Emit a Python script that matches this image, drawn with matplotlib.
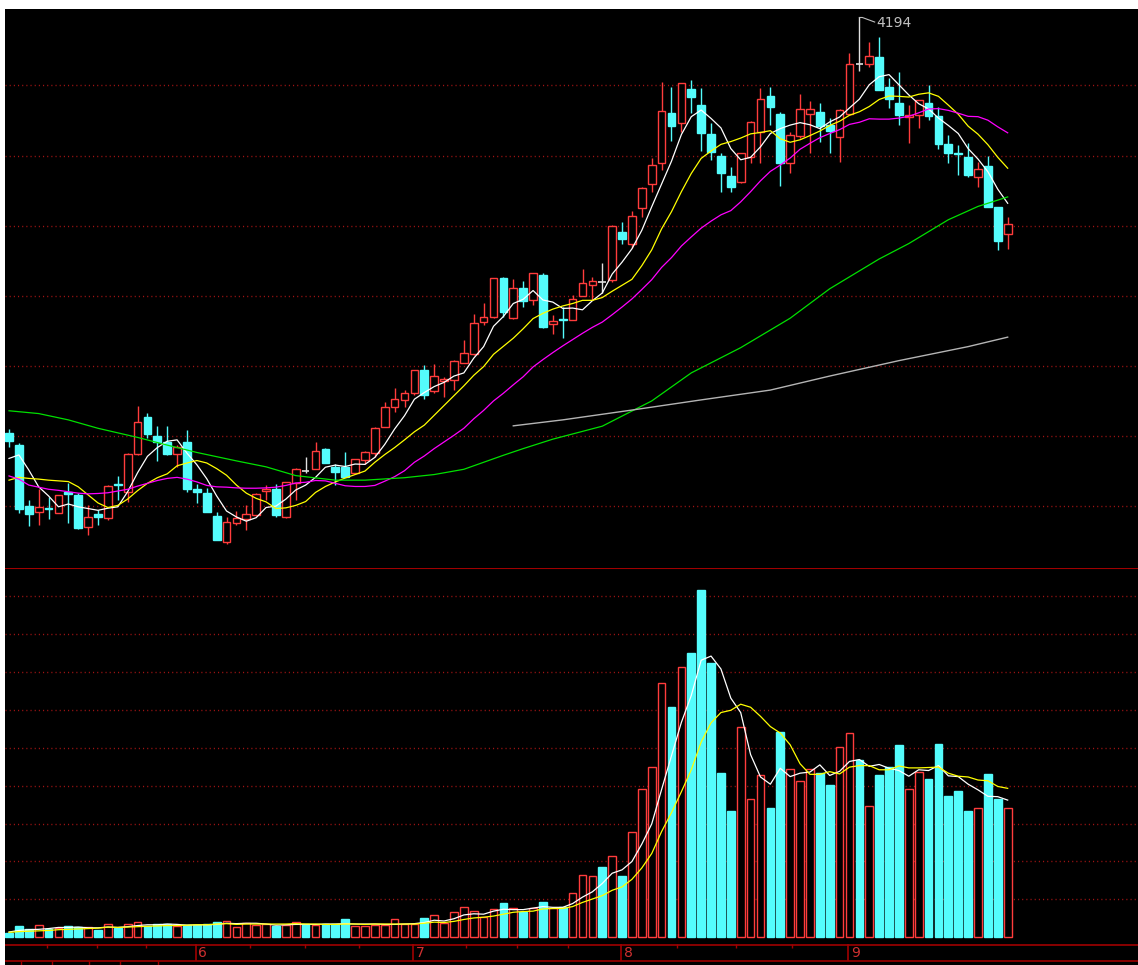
import numpy as np
import matplotlib
matplotlib.use('Agg')
import matplotlib.pyplot as plt
from matplotlib.patches import Rectangle

# 日K线数据
opens = [3009, 2974, 2801, 2783, 2795, 2781, 2841, 2832, 2741, 2777,
         2767, 2863, 2841, 2948, 3055, 3000, 2984, 2948, 2984, 2848,
         2838, 2772, 2698, 2753, 2762, 2775, 2843, 2848, 2768, 2867,
         2901, 2906, 2962, 2912, 2912, 2894, 2932, 2951, 3027, 3084,
         3103, 3124, 3188, 3127, 3158, 3160, 3209, 3233, 3326, 3339,
         3450, 3336, 3421, 3388, 3459, 3319, 3333, 3331, 3399, 3431,
         3439, 3445, 3583, 3548, 3651, 3719, 3780, 3922, 3892, 3989,
         3944, 3862, 3799, 3742, 3726, 3797, 3868, 3970, 3919, 3778,
         3856, 3919, 3925, 3887, 3852, 3919, 4061, 4061, 4082, 3997,
         3949, 3911, 3916, 3949, 3913, 3832, 3808, 3797, 3738, 3770,
         3652, 3575]
highs = [3019, 2979, 2817, 2848, 2827, 2833, 2865, 2836, 2803, 2789,
         2860, 2886, 2951, 3086, 3065, 3028, 3028, 2974, 3017, 2863,
         2851, 2784, 2768, 2787, 2803, 2836, 2860, 2863, 2870, 2908,
         2939, 2984, 2965, 2920, 2954, 2935, 2956, 3027, 3098, 3136,
         3131, 3189, 3203, 3205, 3169, 3217, 3274, 3348, 3380, 3451,
         3455, 3447, 3442, 3465, 3466, 3345, 3367, 3402, 3476, 3455,
         3493, 3602, 3610, 3642, 3711, 3792, 4011, 3997, 4007, 4016,
         3992, 3894, 3807, 3768, 3808, 3900, 3992, 3997, 3925, 3868,
         3976, 3957, 3951, 3908, 3932, 4094, 4194, 4123, 4138, 4021,
         4039, 3944, 3959, 4001, 3940, 3859, 3830, 3835, 3783, 3799,
         3653, 3626]
lows = [2968, 2779, 2743, 2746, 2762, 2779, 2752, 2734, 2718, 2746,
        2760, 2817, 2813, 2946, 2993, 2929, 2947, 2912, 2841, 2808,
        2784, 2703, 2692, 2746, 2732, 2772, 2817, 2770, 2765, 2817,
        2894, 2905, 2922, 2860, 2884, 2892, 2920, 2941, 3026, 3068,
        3084, 3117, 3105, 3122, 3110, 3131, 3207, 3232, 3317, 3336,
        3340, 3334, 3369, 3374, 3307, 3291, 3281, 3330, 3399, 3388,
        3407, 3440, 3548, 3536, 3624, 3697, 3759, 3843, 3868, 3921,
        3814, 3787, 3697, 3697, 3723, 3778, 3778, 3887, 3713, 3750,
        3849, 3807, 3840, 3808, 3783, 3916, 4042, 4054, 3987, 3935,
        3887, 3837, 3878, 3902, 3818, 3778, 3745, 3740, 3711, 3652,
        3531, 3533]
closes = [2987, 2791, 2777, 2798, 2791, 2831, 2835, 2737, 2770, 2768,
          2858, 2859, 2949, 3039, 3006, 2984, 2948, 2968, 2848, 2840,
          2784, 2703, 2755, 2765, 2777, 2834, 2848, 2775, 2868, 2906,
          2901, 2958, 2924, 2898, 2884, 2934, 2955, 3024, 3084, 3105,
          3124, 3188, 3117, 3171, 3164, 3214, 3236, 3323, 3340, 3450,
          3355, 3421, 3386, 3464, 3312, 3328, 3331, 3390, 3437, 3443,
          3439, 3599, 3561, 3628, 3707, 3773, 3928, 3884, 4006, 3966,
          3864, 3811, 3750, 3710, 3807, 3897, 3961, 3938, 3780, 3859,
          3932, 3932, 3884, 3871, 3930, 4061, 4061, 4085, 3987, 3961,
          3916, 3916, 3959, 3913, 3833, 3807, 3804, 3744, 3761, 3654,
          3557, 3604]
# 成交量（任意单位）
volumes = [0.12, 0.31, 0.21, 0.32, 0.21, 0.24, 0.30, 0.26, 0.26, 0.19,
           0.35, 0.24, 0.35, 0.41, 0.30, 0.35, 0.35, 0.30, 0.32, 0.32,
           0.35, 0.41, 0.44, 0.28, 0.38, 0.32, 0.34, 0.30, 0.32, 0.41,
           0.34, 0.32, 0.34, 0.34, 0.47, 0.30, 0.30, 0.32, 0.32, 0.47,
           0.34, 0.34, 0.50, 0.59, 0.37, 0.66, 0.81, 0.69, 0.54, 0.74,
           0.90, 0.77, 0.68, 0.77, 0.94, 0.77, 0.81, 1.16, 1.64, 1.62,
           1.86, 2.15, 1.62, 2.77, 3.92, 4.50, 6.70, 6.07, 7.14, 7.49,
           9.16, 7.25, 4.34, 3.32, 5.56, 3.64, 4.28, 3.40, 5.42, 4.45,
           4.12, 4.43, 4.34, 4.01, 5.02, 5.39, 4.67, 3.47, 4.27, 4.49,
           5.08, 3.92, 4.36, 4.17, 5.11, 3.72, 3.86, 3.33, 3.41, 4.30,
           3.66, 3.41]

# 均线
ma5 = [2936, 2946, 2903, 2855, 2829, 2798, 2806, 2798, 2793, 2788,
       2794, 2798, 2841, 2895, 2942, 2967, 2985, 2989, 2951, 2918,
       2878, 2829, 2786, 2769, 2757, 2767, 2796, 2800, 2820, 2846,
       2860, 2882, 2911, 2917, 2913, 2920, 2919, 2939, 2976, 3020,
       3058, 3105, 3124, 3141, 3153, 3171, 3180, 3222, 3255, 3313,
       3341, 3378, 3390, 3415, 3388, 3382, 3364, 3365, 3360, 3386,
       3408, 3462, 3496, 3534, 3587, 3654, 3719, 3784, 3860, 3911,
       3930, 3906, 3879, 3820, 3788, 3795, 3825, 3863, 3877, 3887,
       3894, 3888, 3877, 3896, 3910, 3936, 3961, 4002, 4025, 4031,
       4002, 3973, 3948, 3933, 3907, 3886, 3863, 3820, 3790, 3754,
       3704, 3664]
ma10 = [2874, 2882, 2879, 2877, 2874, 2872, 2870, 2855, 2832, 2809,
        2796, 2802, 2820, 2844, 2865, 2881, 2892, 2915, 2923, 2930,
        2923, 2907, 2888, 2860, 2837, 2822, 2812, 2793, 2795, 2802,
        2813, 2839, 2856, 2869, 2880, 2890, 2900, 2925, 2947, 2967,
        2989, 3012, 3031, 3059, 3087, 3115, 3143, 3173, 3198, 3233,
        3256, 3279, 3306, 3335, 3350, 3362, 3371, 3378, 3387, 3387,
        3395, 3413, 3430, 3447, 3486, 3531, 3591, 3640, 3697, 3749,
        3792, 3813, 3832, 3840, 3850, 3862, 3866, 3871, 3848, 3838,
        3845, 3857, 3870, 3886, 3898, 3915, 3925, 3940, 3960, 3970,
        3969, 3967, 3975, 3979, 3969, 3944, 3918, 3884, 3861, 3831,
        3795, 3764]
ma20 = [2886, 2877, 2860, 2854, 2848, 2845, 2841, 2837, 2835, 2836,
        2838, 2843, 2848, 2857, 2865, 2873, 2879, 2882, 2877, 2869,
        2859, 2855, 2854, 2852, 2851, 2851, 2852, 2854, 2859, 2866,
        2868, 2873, 2872, 2865, 2858, 2856, 2856, 2859, 2871, 2884,
        2901, 2925, 2943, 2964, 2983, 3002, 3022, 3049, 3073, 3100,
        3122, 3146, 3169, 3197, 3218, 3238, 3257, 3275, 3293, 3310,
        3325, 3346, 3368, 3391, 3418, 3446, 3481, 3509, 3542, 3568,
        3593, 3613, 3631, 3643, 3668, 3697, 3728, 3755, 3773, 3793,
        3818, 3835, 3851, 3863, 3874, 3889, 3895, 3905, 3904, 3904,
        3907, 3912, 3922, 3933, 3934, 3929, 3921, 3912, 3911, 3901,
        3882, 3865]
ma60_idx = [0, 3, 6, 9, 13, 16, 19, 23, 26, 29, 33, 36, 40, 43, 46, 50, 52,
            55, 60, 65, 69, 74, 79, 83, 88, 91, 95, 98, 101]
ma60 = [3072, 3064, 3046, 3022, 2996, 2974, 2953, 2929, 2912, 2887, 2874,
        2874, 2881, 2890, 2905, 2945, 2964, 2991, 3028, 3100, 3180, 3252,
        3336, 3420, 3505, 3549, 3617, 3655, 3682]
ma120_idx = [51, 56, 63, 70, 77, 83, 90, 97, 101]
ma120 = [3029, 3046, 3074, 3103, 3131, 3171, 3215, 3255, 3282]

vol_ma5 = [0.14, 0.18, 0.20, 0.21, 0.23, 0.26, 0.26, 0.27, 0.25, 0.25,
           0.27, 0.26, 0.28, 0.31, 0.33, 0.33, 0.35, 0.34, 0.32, 0.33,
           0.33, 0.34, 0.37, 0.36, 0.37, 0.37, 0.35, 0.32, 0.33, 0.34,
           0.34, 0.34, 0.35, 0.35, 0.36, 0.35, 0.35, 0.35, 0.34, 0.34,
           0.35, 0.36, 0.39, 0.45, 0.43, 0.49, 0.59, 0.62, 0.61, 0.69,
           0.74, 0.73, 0.73, 0.77, 0.81, 0.79, 0.79, 0.89, 1.06, 1.20,
           1.42, 1.69, 1.78, 2.00, 2.46, 2.99, 3.90, 4.79, 5.67, 6.38,
           7.31, 7.42, 7.08, 6.31, 5.93, 4.82, 4.23, 4.04, 4.46, 4.24,
           4.33, 4.36, 4.55, 4.27, 4.38, 4.64, 4.69, 4.51, 4.56, 4.46,
           4.40, 4.25, 4.42, 4.40, 4.53, 4.26, 4.24, 4.04, 3.89, 3.72,
           3.71, 3.62]
vol_ma10 = [0.13, 0.15, 0.16, 0.17, 0.18, 0.20, 0.21, 0.22, 0.23, 0.24,
            0.27, 0.26, 0.27, 0.28, 0.29, 0.30, 0.31, 0.31, 0.32, 0.33,
            0.33, 0.35, 0.36, 0.34, 0.35, 0.35, 0.35, 0.35, 0.35, 0.36,
            0.35, 0.35, 0.34, 0.34, 0.35, 0.35, 0.34, 0.35, 0.35, 0.35,
            0.35, 0.35, 0.37, 0.40, 0.39, 0.42, 0.47, 0.51, 0.53, 0.56,
            0.61, 0.66, 0.68, 0.69, 0.75, 0.76, 0.76, 0.81, 0.92, 1.01,
            1.10, 1.24, 1.33, 1.53, 1.83, 2.21, 2.79, 3.29, 3.84, 4.42,
            5.15, 5.66, 5.93, 5.99, 6.15, 6.07, 5.83, 5.56, 5.39, 5.08,
            4.58, 4.30, 4.30, 4.37, 4.31, 4.49, 4.53, 4.53, 4.42, 4.42,
            4.52, 4.47, 4.47, 4.48, 4.49, 4.33, 4.25, 4.23, 4.15, 4.13,
            3.98, 3.93]

# 时间轴
month_labels = ['6', '7', '8', '9']
month_start = [19, 41, 62, 85]
week_ticks = [3.8, 8.85, 13.9, 24.4, 29.9, 35.4, 46.2, 51.4, 56.5, 67.6, 73.5, 79.2]
lower_ticks = [1.2, 4.35, 8.1, 11.2, 15.1]
peak_idx = 86

# 颜色
UP = '#ff3c3c'
DOWN = '#54fcfc'
DOJI = '#e0e0e0'
GRID = '#a01414'
AXIS = '#a00000'

W, H = 1138, 965
fig = plt.figure(figsize=(W / 100, H / 100), dpi=100, facecolor='white')


def px_axes(x0, y0, x1, y1):
    # 按像素位置放置坐标轴
    ax = fig.add_axes([x0 / W, 1 - y1 / H, (x1 - x0) / W, (y1 - y0) / H])
    ax.set_facecolor('black')
    ax.set_xticks([])
    ax.set_yticks([])
    for s in ax.spines.values():
        s.set_visible(False)
    ax.set_xlim(-0.405, 114.18)
    return ax


ax_k = px_axes(5, 9, 1138, 568)
ax_v = px_axes(5, 568, 1138, 944)
ax_d = px_axes(5, 944, 1138, 965)
ax_k.set_ylim(2623.4, 4218.2)
ax_v.set_ylim(-0.177, 9.744)
ax_d.set_ylim(0, 21)

n = len(closes)
idx = np.arange(n)
bw = 0.78

# 网格（红色点线）
dots = (0, (0.8, 2.2))
for p in range(2800, 4001, 200):
    ax_k.axhline(p, color=GRID, lw=1, ls=dots, zorder=1)
for g in range(1, 10):
    ax_v.axhline(g, color=GRID, lw=1, ls=dots, zorder=1)

# K线
for i in range(n):
    o, h, l, c = opens[i], highs[i], lows[i], closes[i]
    if c > o:
        col = UP
    elif c < o:
        col = DOWN
    else:
        col = DOJI
    ax_k.vlines(i, l, h, color=col, lw=1, zorder=2)
    if c == o:
        ax_k.hlines(o, i - bw / 2, i + bw / 2, color=col, lw=1.2, zorder=3)
    else:
        face = 'black' if c > o else DOWN
        ax_k.add_patch(Rectangle((i - bw / 2, min(o, c)), bw, abs(c - o),
                                 facecolor=face, edgecolor=col, lw=1, zorder=3))

# 均线
ax_k.plot(idx, ma5, color='white', lw=0.9, zorder=4)
ax_k.plot(idx, ma10, color='#ffff00', lw=0.9, zorder=4)
ax_k.plot(idx, ma20, color='#ff00ff', lw=0.9, zorder=4)
ax_k.plot(ma60_idx, ma60, color='#00e000', lw=0.9, zorder=4)
ax_k.plot(ma120_idx, ma120, color='#b4b4b4', lw=1.0, zorder=4)

# 最高点标注
ax_k.plot([peak_idx, peak_idx + 0.3, peak_idx + 1.55],
          [highs[peak_idx], highs[peak_idx], highs[peak_idx] - 13],
          color='#c0c0c0', lw=0.8, zorder=5)
ax_k.text(peak_idx + 1.7, highs[peak_idx] - 16, str(highs[peak_idx]),
          color='#c0c0c0', fontsize=10, va='center', ha='left', zorder=5)

# 成交量
for i in range(n):
    up = closes[i] > opens[i]
    ax_v.add_patch(Rectangle((i - bw / 2, 0), bw, volumes[i],
                             facecolor='black' if up else DOWN,
                             edgecolor=UP if up else DOWN, lw=1, zorder=3))
ax_v.plot(idx, vol_ma5, color='white', lw=0.9, zorder=4)
ax_v.plot(idx, vol_ma10, color='#ffff00', lw=0.9, zorder=4)
ax_v.axhline(9.744, color=AXIS, lw=1.5, zorder=5)

# 时间轴
ax_d.axhline(20.5, color=AXIS, lw=1.2)
ax_d.axhline(4, color=AXIS, lw=1.2)
for m, s in zip(month_labels, month_start):
    ax_d.vlines(s - 0.1, 4, 21, color=AXIS, lw=1.2)
    ax_d.text(s + 0.15, 12, m, color='#d03030', fontsize=10, va='center', ha='left')
ax_d.vlines(week_ticks, 17.5, 21, color=AXIS, lw=1)
ax_d.vlines(lower_ticks, 0, 4, color=AXIS, lw=1)

plt.savefig('out.png', dpi=100, facecolor='white')
